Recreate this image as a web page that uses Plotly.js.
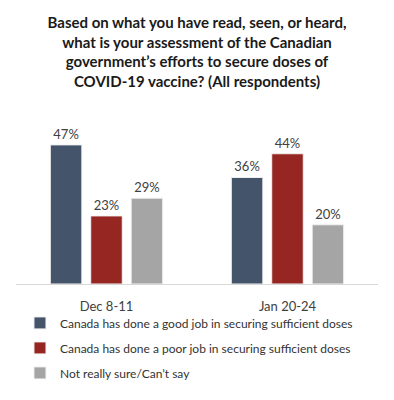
<!DOCTYPE html>
<html>
<head>
<meta charset="utf-8">
<script src="https://cdn.plot.ly/plotly-3.0.1.min.js"></script>
<style>html,body{margin:0;padding:0;background:#fff;}#chart{width:394px;height:400px;}</style>
</head>
<body>
<div id="chart"></div>
<script>
var categories = ["Dec 8-11", "Jan 20-24"];
var seriesNames = [
  "Canada has done a good job in securing sufficient doses",
  "Canada has done a poor job in securing sufficient doses",
  "Not really sure/Can\u2019t say"
];
var goodJob = [47, 36];
var poorJob = [23, 44];
var notSure = [29, 20];
var colors = ["#44546A", "#952622", "#A5A5A5"];
var titleText = "Based on what you have read, seen, or heard,<br>what is your assessment of the Canadian<br>government\u2019s efforts to secure doses of<br>COVID-19 vaccine? (All respondents)";

var seriesValues = [goodJob, poorJob, notSure];
var traces = seriesValues.map(function (vals, i) {
  return {
    type: "bar",
    x: categories,
    y: vals,
    name: seriesNames[i],
    legendgroup: "g" + i,
    marker: { color: colors[i], line: { color: "#F2F2F2", width: 1 } },
    texttemplate: "%{y}%",
    textposition: "outside",
    cliponaxis: false,
    textfont: { family: "Lato, 'Open Sans', sans-serif", size: 13, color: "#404040" },
    hoverinfo: "skip"
  };
});

var layout = {
  width: 394,
  height: 400,
  paper_bgcolor: "#ffffff",
  plot_bgcolor: "#ffffff",
  margin: { l: 16, r: 16, t: 136, b: 113 },
  title: {
    text: titleText,
    font: { family: "Lato, 'Open Sans', sans-serif", size: 15, color: "#1a1a1a", weight: "bold" },
    x: 0.5,
    xanchor: "center",
    xref: "paper",
    y: 0.93,
    yref: "container",
    yanchor: "top"
  },
  barmode: "group",
  bargap: 0.33,
  bargroupgap: 0.22,
  showlegend: true,
  legend: {
    orientation: "v",
    x: 0.011,
    xanchor: "left",
    y: -0.165,
    yanchor: "top",
    bgcolor: "rgba(0,0,0,0)",
    tracegroupgap: 6,
    font: { family: "Lato, 'Open Sans', sans-serif", size: 12, color: "#333333" },
    itemclick: false,
    itemdoubleclick: false
  },
  xaxis: {
    type: "category",
    showline: true,
    linecolor: "#D9D9D9",
    linewidth: 1,
    ticks: "",
    showgrid: false,
    ticklabelstandoff: 10,
    tickfont: { family: "Lato, 'Open Sans', sans-serif", size: 13, color: "#404040" },
    fixedrange: true
  },
  yaxis: {
    range: [0, 50],
    visible: false,
    showgrid: false,
    zeroline: false,
    fixedrange: true
  }
};

Plotly.newPlot("chart", traces, layout, { displayModeBar: false, staticPlot: true });
</script>
</body>
</html>
